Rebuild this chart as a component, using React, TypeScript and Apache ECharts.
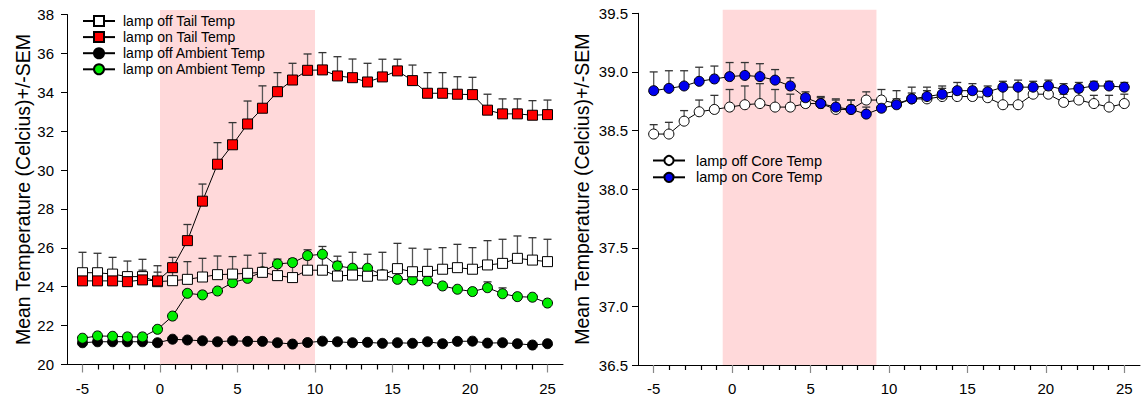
import React, { useEffect, useRef } from 'react';
import * as echarts from 'echarts';

// time (x) of each sample
const timePoints = [-5, -4.03, -3.06, -2.1, -1.13, -0.16, 0.81, 1.77, 2.74, 3.71, 4.68, 5.65, 6.61, 7.58, 8.55, 9.52, 10.48, 11.45, 12.42, 13.39, 14.35, 15.32, 16.29, 17.26, 18.23, 19.19, 20.16, 21.13, 22.1, 23.06, 24.03, 25];

// Left panel
const offTail = [24.72, 24.72, 24.65, 24.52, 24.52, 24.26, 24.31, 24.38, 24.5, 24.62, 24.65, 24.69, 24.74, 24.57, 24.47, 24.85, 24.85, 24.55, 24.6, 24.54, 24.6, 24.93, 24.77, 24.79, 24.9, 24.98, 24.9, 25.12, 25.2, 25.46, 25.37, 25.29];
const offTailSem = [1.05, 1.0, 0.86, 0.8, 0.89, 0.82, 0.6, 0.91, 0.96, 0.96, 0.9, 0.93, 0.98, 0.73, 0.73, 0.55, 0.65, 0.75, 1.17, 1.13, 1.17, 1.3, 1.21, 1.14, 1.11, 1.2, 1.11, 1.25, 1.24, 1.15, 1.15, 1.15];
const onTail = [24.3, 24.3, 24.3, 24.26, 24.35, 24.3, 24.98, 26.37, 28.4, 30.3, 31.3, 32.37, 33.18, 34.03, 34.63, 35.13, 35.15, 34.84, 34.75, 34.53, 34.79, 35.1, 34.6, 33.95, 33.95, 33.9, 33.88, 33.08, 32.89, 32.89, 32.82, 32.85];
const onTailSem = [0.45, 0.45, 0.45, 0.45, 0.5, 0.45, 0.53, 0.83, 0.88, 1.11, 1.14, 1.18, 1.15, 0.98, 0.86, 0.84, 0.89, 0.99, 0.96, 0.96, 0.91, 0.6, 0.8, 1.06, 1.06, 0.9, 0.89, 0.82, 0.77, 0.77, 0.75, 0.75];
const offAmbient = [21.12, 21.17, 21.17, 21.17, 21.17, 21.12, 21.3, 21.26, 21.22, 21.17, 21.22, 21.19, 21.19, 21.12, 21.05, 21.13, 21.2, 21.17, 21.12, 21.14, 21.09, 21.12, 21.09, 21.17, 21.07, 21.19, 21.2, 21.1, 21.12, 21.07, 21.0, 21.07];
const offAmbientSem = [0.08, 0.08, 0.08, 0.08, 0.08, 0.08, 0.08, 0.08, 0.08, 0.08, 0.08, 0.08, 0.08, 0.08, 0.08, 0.08, 0.08, 0.08, 0.08, 0.08, 0.08, 0.08, 0.08, 0.08, 0.08, 0.08, 0.08, 0.08, 0.08, 0.08, 0.08, 0.08];
const onAmbient = [21.35, 21.47, 21.45, 21.42, 21.42, 21.81, 22.49, 23.66, 23.58, 23.78, 24.21, 24.43, 24.77, 25.17, 25.24, 25.6, 25.67, 25.07, 24.95, 24.95, 24.62, 24.38, 24.35, 24.3, 24.04, 23.87, 23.75, 23.95, 23.64, 23.49, 23.46, 23.16];
const onAmbientSem = [0.1, 0.1, 0.1, 0.1, 0.1, 0.05, 0.1, 0.15, 0.15, 0.12, 0.1, 0.05, 0.2, 0.25, 0.2, 0.3, 0.4, 0.5, 0.15, 0.1, 0.1, 0.05, 0.05, 0.05, 0.05, 0.05, 0.05, 0.3, 0.3, 0.05, 0.1, 0.05];

// Right panel
const offCore = [38.47, 38.47, 38.58, 38.66, 38.68, 38.7, 38.72, 38.73, 38.7, 38.7, 38.73, 38.73, 38.68, 38.68, 38.76, 38.76, 38.73, 38.77, 38.77, 38.79, 38.79, 38.79, 38.78, 38.72, 38.72, 38.81, 38.81, 38.74, 38.76, 38.73, 38.7, 38.73];
const offCoreSem = [0.08, 0.1, 0.09, 0.1, 0.12, 0.15, 0.16, 0.17, 0.15, 0.11, 0.06, 0.05, 0.08, 0.08, 0.07, 0.09, 0.11, 0.1, 0.1, 0.09, 0.06, 0.06, 0.07, 0.15, 0.15, 0.04, 0.05, 0.07, 0.07, 0.07, 0.1, 0.08];
const onCore = [38.84, 38.86, 38.88, 38.92, 38.94, 38.96, 38.97, 38.96, 38.93, 38.88, 38.78, 38.73, 38.7, 38.68, 38.64, 38.69, 38.72, 38.77, 38.79, 38.81, 38.84, 38.84, 38.83, 38.87, 38.87, 38.87, 38.88, 38.85, 38.86, 38.88, 38.88, 38.87];
const onCoreSem = [0.16, 0.15, 0.13, 0.12, 0.11, 0.12, 0.11, 0.11, 0.09, 0.07, 0.05, 0.06, 0.07, 0.08, 0.06, 0.05, 0.05, 0.05, 0.05, 0.05, 0.07, 0.06, 0.05, 0.05, 0.06, 0.05, 0.05, 0.05, 0.05, 0.04, 0.04, 0.04];

const majorTicks = [-5, 0, 5, 10, 15, 20, 25];
const minorTicks = [-4, -3, -2, -1, 1, 2, 3, 4, 6, 7, 8, 9, 11, 12, 13, 14, 16, 17, 18, 19, 21, 22, 23, 24];
// lamp-on window: [xStart, xEnd, yBottom, yTop]
const leftLampWindow = [0, 10, 20, 38.23];
const rightLampWindow = [-0.6, 9.2, 36.5, 39.53];

const yTitle = 'Mean Temperature (Celcius)+/-SEM';
const FONT = 'Liberation Sans, Arial, sans-serif';

function lineSeries(name: string, values: number[], symbol: string, fill: string, axis: number, z: number, size: number) {
  return {
    type: 'line',
    name,
    xAxisIndex: axis * 2,
    yAxisIndex: axis,
    data: timePoints.map((t, i) => [t, values[i]]),
    symbol,
    symbolSize: size,
    showAllSymbol: true,
    itemStyle: { color: fill, borderColor: '#000', borderWidth: 1 },
    lineStyle: { color: '#000', width: 1 },
    z,
    silent: true,
  };
}

function errorSeries(name: string, values: number[], sems: number[], axis: number) {
  return {
    type: 'custom',
    name: name + ' SEM',
    xAxisIndex: axis * 2,
    yAxisIndex: axis,
    z: 1,
    silent: true,
    data: timePoints.map((t, i) => [t, values[i], values[i] + sems[i]]),
    encode: { x: 0, y: [1, 2] },
    renderItem: (_p: any, api: any) => {
      const x = api.value(0);
      const p0 = api.coord([x, api.value(1)]);
      const p1 = api.coord([x, api.value(2)]);
      const hw = 4;
      return {
        type: 'group',
        children: [
          { type: 'line', shape: { x1: p0[0], y1: p0[1], x2: p1[0], y2: p1[1] }, style: { stroke: '#555', lineWidth: 1.3 } },
          { type: 'line', shape: { x1: p1[0] - hw, y1: p1[1], x2: p1[0] + hw, y2: p1[1] }, style: { stroke: '#333', lineWidth: 1.3 } },
        ],
      };
    },
  };
}

function shadeSeries(axis: number, win: number[]) {
  return {
    type: 'custom',
    name: 'lamp window ' + axis,
    xAxisIndex: axis * 2,
    yAxisIndex: axis,
    z: 0,
    clip: false,
    silent: true,
    data: [win],
    encode: { x: 0, y: 2 },
    renderItem: (_p: any, api: any) => {
      const a = api.coord([api.value(0), api.value(2)]);
      const b = api.coord([api.value(1), api.value(3)]);
      return {
        type: 'rect',
        shape: { x: a[0], y: b[1], width: b[0] - a[0], height: a[1] - b[1] },
        style: { fill: '#ffd9da', stroke: null, lineWidth: 0 },
      };
    },
  };
}

function xAxes(grid: number) {
  return [
    {
      type: 'value', gridIndex: grid, position: 'bottom', min: -6, max: 26, interval: 1,
      axisLine: { show: true, onZero: false, lineStyle: { color: '#000', width: 1 } },
      axisTick: { show: true, length: 8, lineStyle: { color: '#888', width: 1.2 }, customValues: majorTicks },
      axisLabel: { customValues: majorTicks, fontSize: 15, color: '#000', margin: 16, fontFamily: FONT },
      splitLine: { show: false },
    },
    {
      type: 'value', gridIndex: grid, position: 'bottom', offset: 0, min: -6, max: 26, interval: 1,
      axisLine: { show: false, onZero: false },
      axisTick: { show: true, length: 5, lineStyle: { color: '#000', width: 1.2 }, customValues: minorTicks },
      axisLabel: { show: false },
      splitLine: { show: false },
    },
  ];
}

export default function App() {
  const ref = useRef<HTMLDivElement>(null);
  useEffect(() => {
    document.body.style.margin = '0';
    const chart = echarts.init(ref.current!, null, { renderer: 'svg' });
    const option: any = {
      animation: false,
      backgroundColor: '#fff',
      textStyle: { fontFamily: FONT },
      grid: [
        { left: 67, right: 579, top: 14.5, bottom: 35.5 },
        { left: 638, right: 2, top: 13.3, bottom: 35 },
      ],
      xAxis: [...xAxes(0), ...xAxes(1)],
      yAxis: [
        {
          type: 'value', gridIndex: 0, min: 20, max: 38, interval: 2, position: 'left',
          axisLine: { show: true, onZero: false, lineStyle: { color: '#000', width: 1 } },
          axisTick: { show: true, length: 6, lineStyle: { color: '#000' } },
          axisLabel: { fontSize: 15, color: '#000', margin: 13, fontFamily: FONT },
          splitLine: { show: false },
          name: yTitle, nameLocation: 'middle', nameGap: 34,
          nameTextStyle: { fontSize: 19.5, color: '#000', fontFamily: FONT },
        },
        {
          type: 'value', gridIndex: 1, min: 36.5, max: 39.5, interval: 0.5, position: 'left',
          axisLine: { show: true, onZero: false, lineStyle: { color: '#000', width: 1 } },
          axisTick: { show: true, length: 6, lineStyle: { color: '#000' } },
          axisLabel: { fontSize: 15, color: '#000', margin: 10, fontFamily: FONT, formatter: (v: number) => v.toFixed(1) },
          splitLine: { show: false },
          name: yTitle, nameLocation: 'middle', nameGap: 46,
          nameTextStyle: { fontSize: 19.5, color: '#000', fontFamily: FONT },
        },
      ],
      legend: [
        {
          orient: 'vertical', left: 82, top: 14, padding: 0, itemWidth: 32, itemHeight: 12.5, itemGap: 2.1,
          data: ['lamp off Tail Temp', 'lamp on Tail Temp', 'lamp off Ambient Temp', 'lamp on Ambient Temp'],
          textStyle: { fontSize: 14, color: '#000', fontFamily: FONT, padding: [0, 0, 0, 3] },
          selectedMode: false,
        },
        {
          orient: 'vertical', left: 652, top: 153, padding: 0, itemWidth: 32, itemHeight: 11.5, itemGap: 1.8,
          data: ['lamp off Core Temp', 'lamp on Core Temp'],
          textStyle: { fontSize: 14.5, color: '#000', fontFamily: FONT, padding: [0, 0, 0, 6] },
          selectedMode: false,
        },
      ],
      series: [
        shadeSeries(0, leftLampWindow),
        shadeSeries(1, rightLampWindow),
        errorSeries('lamp off Ambient Temp', offAmbient, offAmbientSem, 0),
        errorSeries('lamp on Ambient Temp', onAmbient, onAmbientSem, 0),
        errorSeries('lamp off Tail Temp', offTail, offTailSem, 0),
        errorSeries('lamp on Tail Temp', onTail, onTailSem, 0),
        errorSeries('lamp off Core Temp', offCore, offCoreSem, 1),
        errorSeries('lamp on Core Temp', onCore, onCoreSem, 1),
        lineSeries('lamp off Ambient Temp', offAmbient, 'circle', '#000', 0, 2, 10),
        lineSeries('lamp on Ambient Temp', onAmbient, 'circle', '#00ee00', 0, 3, 10),
        lineSeries('lamp off Tail Temp', offTail, 'rect', '#fff', 0, 4, 10),
        lineSeries('lamp on Tail Temp', onTail, 'rect', '#ff0000', 0, 5, 10),
        lineSeries('lamp off Core Temp', offCore, 'circle', '#fff', 1, 2, 10),
        lineSeries('lamp on Core Temp', onCore, 'circle', '#0000ee', 1, 3, 10),
      ],
    };
    chart.setOption(option);
    return () => chart.dispose();
  }, []);
  return <div ref={ref} style={{ width: 1142, height: 400 }} />;
}
